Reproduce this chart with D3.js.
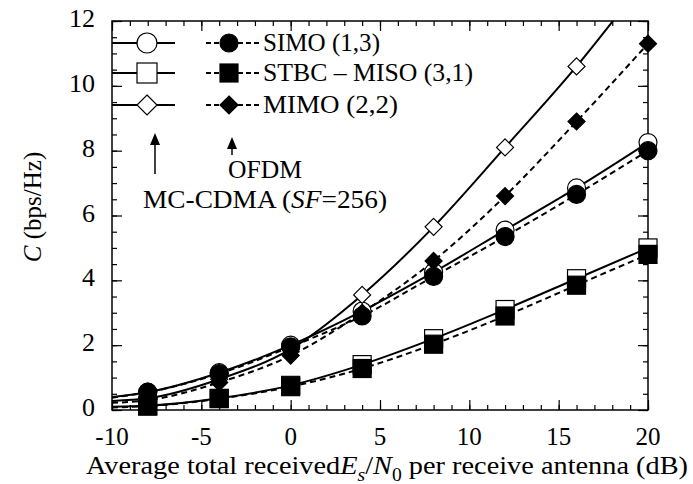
<!DOCTYPE html>
<html>
<head>
<meta charset="utf-8">
<script src="https://cdn.jsdelivr.net/npm/d3@7"></script>
<style>
  body { margin: 0; background: #fff; }
</style>
</head>
<body>
<script>
// ---------------- DATA ----------------
const snr = [-10, -8, -4, 0, 4, 8, 12, 16, 20];      // dB
const markerSnr = [-8, -4, 0, 4, 8, 12, 16, 20];

// MC-CDMA (SF=256) -> solid lines, open markers
const simoMc  = [0.40, 0.55, 1.15, 2.00, 3.05, 4.25, 5.55, 6.85, 8.25];
const stbcMc  = [0.10, 0.13, 0.36, 0.76, 1.40, 2.20, 3.10, 4.05, 5.00];
const mimoMc  = [0.28, 0.36, 0.95, 1.88, 3.55, 5.65, 8.10, 10.60, 13.40];
// OFDM -> dashed lines, filled markers
const simoOf  = [0.38, 0.55, 1.12, 1.95, 2.90, 4.12, 5.35, 6.65, 8.00];
const stbcOf  = [0.08, 0.12, 0.35, 0.72, 1.28, 2.03, 2.90, 3.85, 4.80];
const mimoOf  = [0.22, 0.30, 0.85, 1.68, 3.00, 4.60, 6.60, 8.90, 11.30];

const legendLabels = ["SIMO (1,3)", "STBC \u2013 MISO (3,1)", "MIMO (2,2)"];
const yTicks = [0, 2, 4, 6, 8, 10, 12];
const xTicks = [-10, -5, 0, 5, 10, 15, 20];

const series = [
  { vals: simoMc, shape: "circle",  fill: "#fff", dash: null },
  { vals: stbcMc, shape: "square",  fill: "#fff", dash: null },
  { vals: mimoMc, shape: "diamond", fill: "#fff", dash: null },
  { vals: simoOf, shape: "circle",  fill: "#000", dash: "6,4" },
  { vals: stbcOf, shape: "square",  fill: "#000", dash: "6,4" },
  { vals: mimoOf, shape: "diamond", fill: "#000", dash: "6,4" }
];

// ---------------- SVG ----------------
const W = 693, H = 484;
const m = { left: 112, right: 45, top: 21, bottom: 74 };
const iw = W - m.left - m.right, ih = H - m.top - m.bottom;

const svg = d3.select("body").append("svg")
  .attr("width", W).attr("height", H);

// serif text, optionally stretched to the width
function txt(parent, xp, yp, size, width) {
  const t = parent.append("text").attr("x", xp).attr("y", yp)
    .attr("font-size", size)
    .style("font-family", '"Liberation Serif"');
  if (width) t.attr("textLength", width).attr("lengthAdjust", "spacingAndGlyphs");
  return t;
}

const x = d3.scaleLinear().domain([-10, 20]).range([0, iw]);
const y = d3.scaleLinear().domain([0, 12]).range([ih, 0]);

const g = svg.append("g").attr("transform", `translate(${m.left},${m.top})`);

const defs = svg.append("defs");
defs.append("clipPath").attr("id", "clip")
  .append("rect").attr("x", -12).attr("y", 0).attr("width", iw + 24).attr("height", ih + 12);
defs.append("clipPath").attr("id", "clipLine")
  .append("rect").attr("x", 0).attr("y", 0).attr("width", iw).attr("height", ih);

// ---------------- AXES (ticks inside on all sides) ----------------
function tickAxis(axisFn, scale, vals, len, tr) {
  const a = g.append("g").attr("transform", tr)
    .call(axisFn(scale).tickValues(vals).tickSize(len).tickFormat(""));
  a.select(".domain").remove();
  a.selectAll("line").attr("stroke", "#000").attr("stroke-width", 1.2);
}
const xMinor = d3.range(-10, 21, 1), yMinor = d3.range(0, 12.01, 0.5);
tickAxis(d3.axisBottom, x, xMinor, -5, `translate(0,${ih})`);
tickAxis(d3.axisBottom, x, xTicks, -10, `translate(0,${ih})`);
tickAxis(d3.axisTop, x, xMinor, -5, "translate(0,0)");
tickAxis(d3.axisTop, x, xTicks, -10, "translate(0,0)");
tickAxis(d3.axisLeft, y, yMinor, -5, "translate(0,0)");
tickAxis(d3.axisLeft, y, yTicks, -10, "translate(0,0)");
tickAxis(d3.axisRight, y, yMinor, -5, `translate(${iw},0)`);
tickAxis(d3.axisRight, y, yTicks, -10, `translate(${iw},0)`);

g.append("rect").attr("width", iw).attr("height", ih)
  .attr("fill", "none").attr("stroke", "#000").attr("stroke-width", 1.5);

// tick labels
xTicks.forEach(d => {
  txt(g, x(d), ih + 35, 25).attr("text-anchor", "middle").text(d);
});
yTicks.forEach(d => {
  txt(g, -17, y(d) + 6, 26).attr("text-anchor", "end").text(d);
});

// axis titles
const yt = txt(svg, 0, 0, 25)
  .attr("transform", `translate(41,207) rotate(-90)`)
  .attr("text-anchor", "middle");
yt.append("tspan").attr("font-style", "italic").text("C");
yt.append("tspan").text(" (bps/Hz)");

const xt = txt(svg, 86, 474, 26, 602);
xt.append("tspan").text("Average total received");
xt.append("tspan").attr("font-style", "italic").text("E");
xt.append("tspan").attr("font-size", 18).attr("dy", 7).attr("font-style", "italic").text("s");
xt.append("tspan").attr("dy", -7).text("/");
xt.append("tspan").attr("font-style", "italic").text("N");
xt.append("tspan").attr("font-size", 18).attr("dy", 7).text("0");
xt.append("tspan").attr("dy", -7).text(" per receive antenna (dB)");

// ---------------- MARKERS ----------------
function drawMarker(sel, shape, fill, s) {
  if (shape === "circle") {
    sel.append("circle").attr("r", s).attr("fill", fill)
      .attr("stroke", "#000").attr("stroke-width", 1.2);
  } else if (shape === "square") {
    sel.append("rect").attr("x", -s).attr("y", -s).attr("width", 2 * s).attr("height", 2 * s)
      .attr("fill", fill).attr("stroke", "#000").attr("stroke-width", 1.2);
  } else {
    sel.append("path").attr("d", `M0,${-s}L${s},0L0,${s}L${-s},0Z`)
      .attr("fill", fill).attr("stroke", "#000").attr("stroke-width", 1.2);
  }
}

// ---------------- LINES ----------------
const line = d3.line()
  .x((d, i) => x(snr[i]))
  .y(d => y(d))
  .curve(d3.curveMonotoneX);

series.forEach(s => {
  g.append("path").datum(s.vals)
    .attr("clip-path", "url(#clipLine)")
    .attr("d", line).attr("fill", "none").attr("stroke", "#000")
    .attr("stroke-width", 2).attr("stroke-dasharray", s.dash);
});

series.forEach(s => {
  const pts = g.append("g").attr("clip-path", "url(#clip)");
  markerSnr.forEach(v => {
    const val = s.vals[snr.indexOf(v)];
    const mg = pts.append("g").attr("transform", `translate(${x(v)},${y(val)})`);
    drawMarker(mg, s.shape, s.fill, s.shape === "diamond" ? 8.5 : 9);
  });
});

// ---------------- LEGEND ----------------
const legY = [43, 73, 105];
const legW = [117, 210, 135];
const shapes = ["circle", "square", "diamond"];
legendLabels.forEach((lab, i) => {
  svg.append("line").attr("x1", 112).attr("x2", 175).attr("y1", legY[i]).attr("y2", legY[i])
    .attr("stroke", "#000").attr("stroke-width", 2);
  drawMarker(svg.append("g").attr("transform", `translate(147,${legY[i]})`),
    shapes[i], "#fff", 10);
  svg.append("line").attr("x1", 206).attr("x2", 260).attr("y1", legY[i]).attr("y2", legY[i])
    .attr("stroke", "#000").attr("stroke-width", 2).attr("stroke-dasharray", "5,3");
  drawMarker(svg.append("g").attr("transform", `translate(229,${legY[i]})`),
    shapes[i], "#000", 9);
  txt(svg, 263, legY[i] + 8, 26, legW[i]).text(lab);
});

// ---------------- ANNOTATIONS ----------------
function arrow(x0, yTip, yTail) {
  svg.append("line").attr("x1", x0).attr("x2", x0).attr("y1", yTail).attr("y2", yTip + 6)
    .attr("stroke", "#000").attr("stroke-width", 1.5);
  svg.append("path").attr("d", `M${x0},${yTip}L${x0 - 5},${yTip + 12}L${x0 + 5},${yTip + 12}Z`)
    .attr("fill", "#000");
}
arrow(155, 133, 174);
arrow(232, 137, 155);

txt(svg, 228, 178, 26, 74).text("OFDM");
const mc = txt(svg, 143, 208, 26, 244);
mc.append("tspan").text("MC-CDMA (");
mc.append("tspan").attr("font-style", "italic").text("SF");
mc.append("tspan").text("=256)");
</script>
</body>
</html>
